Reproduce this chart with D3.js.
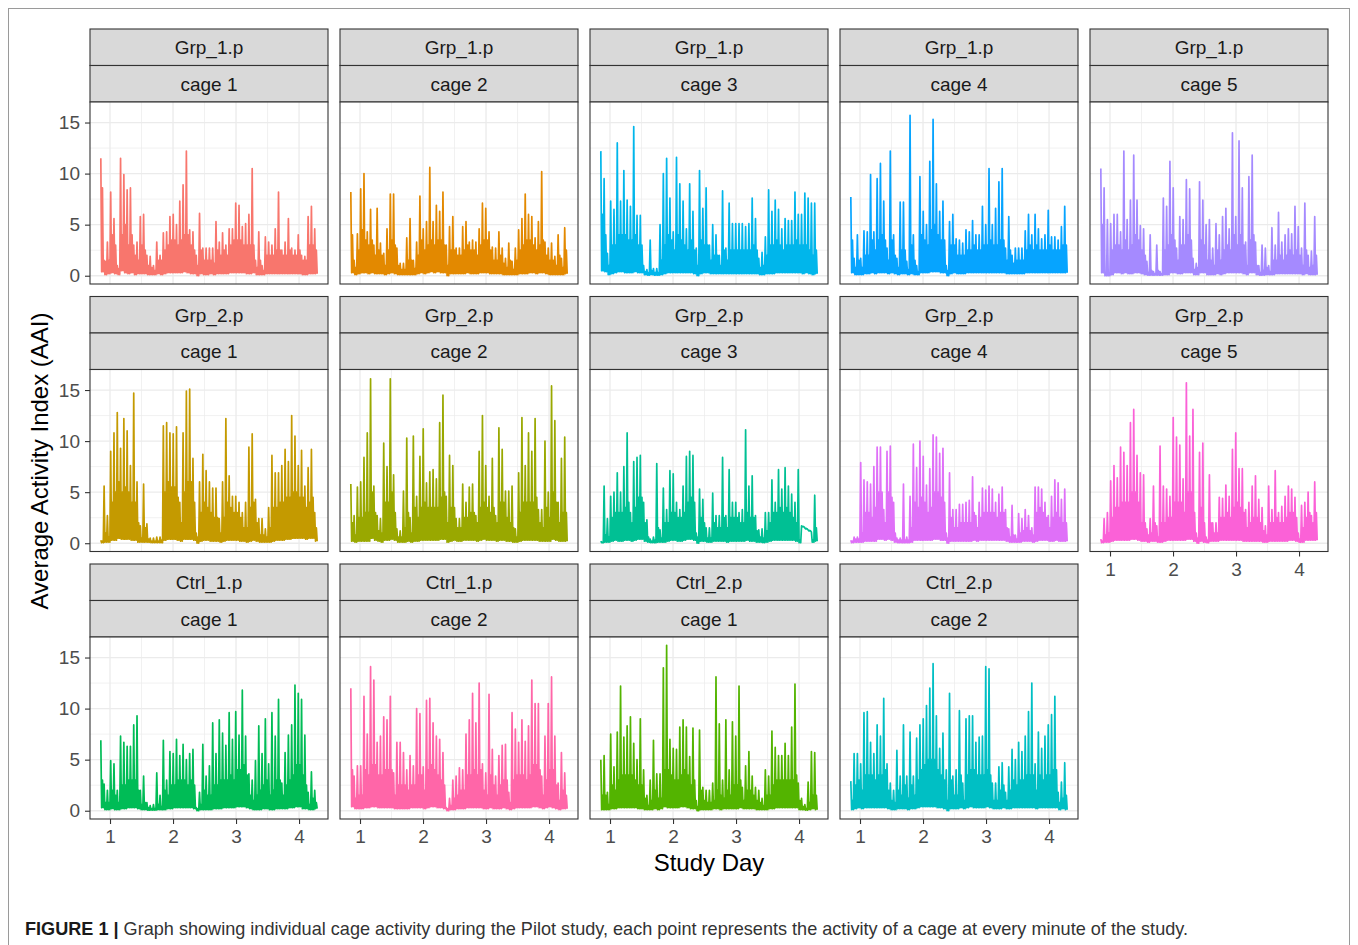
<!DOCTYPE html>
<html>
<head>
<meta charset="utf-8">
<title>Figure 1 - cage activity</title>
<script src="https://cdn.jsdelivr.net/npm/d3@7"></script>
<style>
  html, body { margin: 0; padding: 0; background: #fff; }
  svg { display: block; font-family: "Liberation Sans", Arial, sans-serif; }
</style>
</head>
<body>
<svg id="chart" width="1358" height="945"></svg>
<script>
'use strict';

// Facet labels (facet_wrap order, 5 columns)
var groups = ['Grp_1.p', 'Grp_1.p', 'Grp_1.p', 'Grp_1.p', 'Grp_1.p',
  'Grp_2.p', 'Grp_2.p', 'Grp_2.p', 'Grp_2.p', 'Grp_2.p',
  'Ctrl_1.p', 'Ctrl_1.p', 'Ctrl_2.p', 'Ctrl_2.p'];
var cages = ['cage 1', 'cage 2', 'cage 3', 'cage 4', 'cage 5',
  'cage 1', 'cage 2', 'cage 3', 'cage 4', 'cage 5',
  'cage 1', 'cage 2', 'cage 1', 'cage 2'];

// Study day span of the recordings (values are evenly spaced in it)
var dayStart = 0.854, dayEnd = 4.288;

// Axis breaks
var xBreaks = [1, 2, 3, 4], xMinor = [1.5, 2.5, 3.5];
var yBreaks = [0, 5, 10, 15], yMinor = [2.5, 7.5, 12.5];

// Average Activity Index, per time slot: peak, trough
var grp1Cage1 = [11.5,0.4, 1.5,0.1, 3.3,0.2, 8.2,0.3, 5.6,0.2, 1,0.1, 11.5,0.5, 9.9,0.3, 8.4,0.2, 8.6,0.3, 3,0.1, 3.3,0.2, 5.8,0.2, 6,0.2, 2,0.1, 1.9,0.1, 1,0.1, 3.3,0.2, 2,0.1, 4.2,0.2, 4.3,0.3, 5.8,0.3, 6,0.3, 5,0.3, 7.3,0.3, 8.9,0.4, 12.2,0.3, 4.5,0.2, 4.3,0.2, 2,0, 6.1,0.2, 2.7,0.1, 2.7,0.1, 2.7,0.2, 2.7,0.1, 5.3,0.2, 3.3,0.2, 4.2,0.2, 3,0.2, 4.6,0.3, 4.6,0.3, 7.1,0.3, 6.9,0.3, 4.8,0.3, 5.1,0.2, 6,0.2, 10.5,0.3, 1.5,0.1, 4.3,0.1, 1,0.1, 3.8,0.2, 3.3,0.2, 3,0.2, 4.6,0.2, 8.2,0.2, 2.5,0.2, 3.3,0.2, 5.6,0.2, 2.7,0.2, 2.5,0.2, 4,0.2, 2,0.1, 1.9,0.1, 5.8,0.2, 6.8,0.2, 4.6,0.2];
var grp1Cage2 = [8.2,0.3, 1.5,0.1, 4.1,0.2, 8.5,0.3, 10,0.3, 4.3,0.2, 6.5,0.3, 3,0.2, 6.6,0.2, 3.2,0.2, 2.2,0.1, 4.6,0.2, 8,0.3, 8,0.2, 2.7,0.1, 1.2,0.1, 1.2,0.1, 3.7,0.1, 5.6,0.1, 1.5,0.1, 3.3,0.2, 7.8,0.3, 4.6,0.2, 5.3,0.3, 10.6,0.4, 5.3,0.3, 6.9,0.4, 6.3,0.3, 8.2,0.3, 3,0, 4.8,0.2, 5.8,0.2, 2.7,0.2, 2.7,0.2, 4.8,0.2, 5.3,0.3, 3.3,0.2, 3.5,0.2, 3.3,0.2, 4.6,0.3, 7.1,0.3, 6.6,0.3, 4.3,0.2, 2.8,0.2, 2.7,0.2, 4.3,0.2, 2.7,0.1, 1.7,0.1, 3.2,0.1, 1.4,0.1, 2.7,0.1, 4.5,0.2, 5.6,0.2, 8,0.2, 6,0.3, 5.8,0.3, 3.7,0.2, 5.3,0.3, 10.2,0.3, 3.3,0.2, 2.7,0.1, 3.2,0.1, 1.9,0.1, 4,0.1, 1.7,0.1, 4.7,0.2];
var grp1Cage3 = [12.2,0.5, 9.5,0.4, 2.2,0.1, 7.3,0.2, 6.5,0.3, 13,0.4, 7.3,0.4, 10.3,0.3, 7.4,0.3, 6.8,0.3, 14.6,0.4, 5.9,0.3, 5.9,0.3, 1,0.1, 0.6,0.05, 3.5,0.1, 0.7,0.05, 0.7,0.05, 5,0.1, 10,0.2, 11.5,0.3, 7.6,0.3, 4.3,0.3, 11.6,0.3, 9,0.3, 7.3,0.3, 4.6,0.3, 9,0.3, 6.3,0.2, 2.7,0, 10.3,0.2, 6.6,0.3, 8.6,0.3, 3,0.2, 5,0.2, 4,0.2, 2,0.2, 8.3,0.2, 2.7,0.2, 7.1,0.2, 5.1,0.2, 5.1,0.2, 5.1,0.2, 5.1,0.2, 4.8,0.2, 5.1,0.2, 7.6,0.2, 5.6,0.2, 1.7,0.1, 2.3,0.1, 3.8,0.2, 8.4,0.2, 6.3,0.2, 7.4,0.3, 6.5,0.3, 4.6,0.3, 5.6,0.3, 5.4,0.3, 5.4,0.3, 8.2,0.3, 6,0.3, 6,0.2, 8.1,0.3, 7.6,0.2, 7.1,0.1, 7.1,0.2];
var grp1Cage4 = [7.7,0.3, 1.7,0.1, 4,0.1, 1.7,0.1, 4.4,0.2, 4.3,0.2, 9.9,0.3, 4.3,0.2, 9.5,0.3, 11,0.3, 7.3,0.3, 2.7,0.2, 12.2,0.3, 4,0.2, 1.7,0.1, 7.2,0.2, 7.2,0.2, 1.4,0.1, 15.7,0.2, 4,0.1, 1,0.1, 9.7,0.3, 6.3,0.3, 5,0.3, 11.2,0.4, 15.3,0.4, 9,0.4, 6.3,0.3, 7.3,0.3, 1,0, 5.3,0.2, 6,0.3, 3.6,0.2, 3.5,0.2, 3.2,0.2, 4.5,0.3, 4.3,0.3, 5.4,0.3, 4,0.3, 4,0.3, 6.8,0.3, 5,0.3, 10.5,0.3, 5,0.3, 6.6,0.3, 9.2,0.3, 10.5,0.3, 2.7,0.2, 5.8,0.2, 2,0.2, 2.7,0.2, 2.7,0.2, 2.7,0.2, 4.4,0.3, 6,0.3, 4,0.3, 6,0.3, 4.6,0.3, 3.6,0.3, 4,0.3, 6.4,0.3, 3.8,0.3, 3.8,0.3, 3.5,0.3, 4.8,0.3, 6.8,0.3];
var grp1Cage5 = [10.5,0.3, 8.6,0, 5.5,0, 5.1,0.1, 6,0.3, 6,0.3, 4.3,0.2, 12.2,0.3, 5.5,0.2, 7.4,0.2, 11.8,0.3, 7.4,0.3, 4.9,0.2, 4.6,0.1, 1.4,0.05, 4,0.05, 0.4,0.05, 3,0.05, 0.4,0.05, 7.6,0.1, 6.8,0.1, 11.2,0.3, 8.6,0.3, 2.7,0.2, 5.8,0.2, 5.5,0.3, 9.4,0.3, 8.5,0.3, 1.7,0.1, 1.2,0.1, 9.2,0.3, 7.4,0.3, 5,0.1, 5.5,0.1, 2.7,0.1, 5.1,0.2, 4,0.1, 5.8,0.2, 6.6,0.3, 4.6,0.3, 14,0.3, 5.8,0.3, 13.2,0.3, 8.6,0.2, 3.3,0.1, 9.7,0.3, 11.8,0.3, 3.3,0.1, 1,0.05, 3,0.05, 2.7,0.1, 1,0.1, 4.7,0.1, 3,0.2, 6.2,0.2, 3.3,0.2, 4,0.2, 4.6,0.2, 4.1,0.2, 6.8,0.2, 4.8,0.2, 2.7,0.1, 7.1,0.2, 2,0.1, 2.4,0.1, 5.8,0.1];
var grp2Cage1 = [0.3,0.05, 5.6,0.1, 2.7,0.1, 9,0.3, 10.8,0.3, 12.8,0.5, 9.3,0.4, 12.2,0.4, 11,0.4, 7.6,0.3, 14.7,0.3, 6,0.1, 1.7,0.1, 5.8,0.1, 1.9,0.1, 0.5,0.05, 0.5,0.05, 0.6,0.05, 0.6,0.05, 11.5,0.3, 11.8,0.4, 10.8,0.4, 10.7,0.4, 11.4,0.3, 4,0.2, 10.8,0.4, 14.9,0.4, 15.1,0.4, 8.3,0.3, 1,0, 6,0.2, 8.7,0.3, 7.1,0.3, 6,0.2, 5.4,0.2, 5.4,0.2, 2.4,0.1, 6,0.2, 12.2,0.3, 6.6,0.3, 4.6,0.3, 4.6,0.3, 4,0.2, 3,0.2, 4,0.1, 9.4,0.2, 10.7,0.3, 4.3,0.2, 2.4,0.1, 2.4,0.1, 1.4,0.1, 3.5,0.1, 8.6,0.2, 6.9,0.3, 6.9,0.3, 7.6,0.3, 9.2,0.4, 8,0.4, 12.5,0.5, 10.5,0.5, 7.6,0.5, 9.1,0.5, 5.6,0.4, 7.4,0.5, 9.2,0.5, 3,0.2];
var grp2Cage2 = [5.8,0.2, 2.7,0.1, 5.5,0.2, 6,0.2, 8.4,0.2, 10.8,0.2, 16.1,0.5, 5.6,0.3, 2.7,0.2, 2.4,0.1, 9.8,0.3, 7.5,0.3, 16.1,0.4, 6.7,0.3, 1.4,0.1, 1.2,0.1, 5.1,0.1, 10.3,0.2, 2.5,0.1, 10.5,0.2, 4.6,0.2, 8.5,0.3, 11.2,0.3, 5.9,0.3, 7,0.3, 7.2,0.3, 6.3,0.3, 11.8,0.4, 14.5,0.4, 4.6,0.1, 8.6,0.2, 7.6,0.3, 2.4,0.2, 2.4,0.2, 5.8,0.3, 4,0.3, 5.5,0.3, 5.8,0.3, 2.7,0.2, 9,0.3, 12.5,0.4, 7.6,0.3, 4.6,0.3, 8.3,0.3, 2.7,0.2, 11.3,0.3, 9.2,0.3, 5.1,0.2, 5.1,0.2, 5.6,0.1, 1.4,0.1, 6.9,0.2, 12.3,0.3, 7.6,0.3, 10.8,0.3, 9,0.3, 12.2,0.3, 3.3,0.2, 3.3,0.2, 10,0.2, 5,0.2, 15.4,0.4, 12,0.3, 4,0.2, 8.3,0.2, 10.4,0.2];
var grp2Cage3 = [0.2,0.05, 5.6,0.1, 2.4,0.1, 4.6,0.2, 5,0.3, 6.9,0.2, 5,0.2, 7.5,0.3, 10.8,0.3, 3,0.2, 8,0.3, 8.4,0.4, 8.6,0.4, 4,0.2, 2.3,0.1, 0.4,0.05, 0.6,0.05, 7.8,0.1, 1.3,0.1, 5.4,0.1, 3.3,0.2, 7.1,0.3, 6.8,0.3, 4,0.2, 3.3,0.2, 5.6,0.3, 8.5,0.4, 9,0.4, 8.6,0.3, 1,0, 5.3,0.2, 4.3,0.2, 1.5,0.1, 1.5,0.1, 4.9,0.2, 2.7,0.2, 2.7,0.2, 8.4,0.2, 2.7,0.1, 7.2,0.2, 4,0.2, 4,0.2, 3,0.2, 3.3,0.2, 11.1,0.3, 5.6,0.2, 6.6,0.2, 2.7,0.1, 1.3,0.1, 1.4,0.05, 3,0.1, 3,0.2, 6.2,0.3, 4,0.3, 7.2,0.3, 5.3,0.3, 7.4,0.3, 5.6,0.3, 4.8,0.3, 4,0.2, 7.2,0.05, 1.7,1.6, 1.5,1.4, 1.3,1.2, 1.1,0.1, 4.7,0.2];
var grp2Cage4 = [0.3,0.05, 0.6,0.1, 0.6,0.1, 7.9,0.1, 6.2,0.2, 6,0.2, 5.8,0.2, 7.5,0.2, 9.4,0.4, 9.4,0.4, 3.3,0.3, 9,0.4, 9.5,0.3, 4,0.1, 0.5,0.05, 0.5,0.05, 5.8,0.05, 0.6,0.05, 4.6,0.1, 9.7,0.3, 7.4,0.3, 10,0.3, 8.5,0.3, 5.7,0.3, 7.3,0.3, 10.6,0.4, 10.4,0.4, 8.8,0.3, 9.3,0.3, 1,0, 6.9,0.2, 3.3,0.2, 3.3,0.2, 3.8,0.2, 3.8,0.2, 4,0.2, 4.2,0.2, 6.5,0.3, 2.7,0.2, 4,0.3, 5.4,0.3, 5.2,0.3, 5.6,0.3, 5.3,0.3, 4,0.3, 4.8,0.3, 5.5,0.3, 3.3,0.2, 1.4,0.1, 3.7,0.1, 0.8,0.1, 2.9,0.1, 2.4,0.2, 3.3,0.2, 2.7,0.2, 1.5,0.1, 5.5,0.2, 5.5,0.3, 5.3,0.3, 4,0.3, 2.7,0.2, 4.6,0.2, 6.2,0.3, 5.9,0.2, 4.3,0.2, 5.3,0.2];
var grp2Cage5 = [0.4,0.05, 2.4,0.1, 3,0.1, 6.1,0.2, 7.6,0.3, 6.4,0.3, 9.4,0.3, 8.9,0.3, 7.6,0.3, 11.8,0.4, 13.1,0.4, 8.6,0.3, 6.9,0.2, 6.7,0.2, 1.4,0.1, 2.4,0.2, 5.6,0.2, 1.7,0.1, 9.5,0.1, 5.6,0.2, 5.3,0.3, 4.6,0.3, 12.3,0.3, 10.4,0.3, 9.6,0.3, 6.3,0.3, 15.7,0.4, 10.5,0.4, 13.1,0.2, 1,0, 8.9,0.2, 9.8,0.1, 0.6,0.05, 6.7,0.2, 2,0.2, 2,0.2, 4.5,0.3, 4.4,0.3, 5.7,0.3, 4.6,0.3, 9.2,0.3, 10.8,0.3, 7.3,0.3, 7.3,0.2, 3.3,0.2, 4,0.2, 5.6,0.2, 6.6,0.2, 4.3,0.2, 3.5,0.1, 1.7,0.1, 5.6,0.2, 3.3,0.2, 7.1,0.2, 3,0.2, 3.6,0.2, 4.6,0.2, 5.6,0.3, 5.3,0.3, 4.5,0.2, 1,0.1, 3.7,0.1, 4,0.3, 5,0.3, 2.7,0.3, 6,0.3];
var ctrl1Cage1 = [6.9,0.3, 2.6,0.1, 2,0.1, 4.9,0.2, 4.6,0.1, 2,0.1, 7.3,0.2, 6.7,0.2, 6.3,0.3, 6.3,0.3, 8.4,0.3, 9.3,0.2, 2,0.1, 3.4,0.1, 0.8,0.05, 0.5,0.05, 0.6,0.05, 3.7,0.1, 1.5,0.1, 6.9,0.1, 3,0.2, 5.8,0.2, 5.6,0.3, 7,0.3, 5.4,0.3, 6.5,0.3, 5,0.3, 5.6,0.3, 6,0.2, 0.3,0, 1.8,0.1, 6.5,0.1, 3.4,0.1, 4.4,0.1, 8.6,0.2, 5.6,0.2, 8.9,0.2, 7.6,0.3, 6.4,0.3, 9.6,0.3, 7,0.3, 9.7,0.4, 7.4,0.4, 11.8,0.4, 7.3,0.3, 3.6,0.2, 3,0.1, 4.9,0.1, 8.3,0.1, 5.6,0.2, 9,0.2, 4.6,0.1, 9.6,0.1, 7.3,0.2, 10.9,0.2, 2.7,0.2, 5.7,0.2, 7.4,0.3, 8.4,0.3, 12.3,0.4, 11.5,0.4, 10.9,0.2, 7.4,0.2, 1.8,0.1, 3.8,0.1, 2,0.2];
var ctrl1Cage2 = [12,0.4, 3.4,0.2, 4.4,0.2, 4.4,0.2, 11.2,0.3, 7.5,0.3, 14.1,0.4, 12.8,0.4, 6.7,0.3, 7.3,0.3, 9.2,0.3, 8.9,0.3, 11.2,0.3, 3.7,0.2, 6.7,0.2, 6.7,0.2, 5.7,0.2, 4,0.2, 5.4,0.3, 4.4,0.3, 10,0.3, 9.5,0.3, 4.3,0.2, 10.8,0.3, 11,0.4, 8.6,0.4, 7.3,0.3, 7,0.3, 5.7,0.2, 0.3,0, 1.2,0.1, 3,0.1, 3.4,0.2, 4.2,0.2, 4,0.2, 7.5,0.3, 8.9,0.3, 11.5,0.3, 8.6,0.3, 12.5,0.3, 4.6,0.2, 3.7,0.2, 11.4,0.3, 6,0.2, 3.4,0.2, 5.4,0.2, 6.4,0.3, 6.5,0.2, 1.8,0.1, 9.6,0.2, 8,0.3, 6.7,0.3, 8.9,0.3, 6.8,0.3, 8.3,0.3, 12.8,0.4, 10.5,0.4, 10.5,0.3, 3.4,0.2, 7.3,0.3, 10.5,0.4, 13.1,0.3, 7.3,0.2, 2.7,0.1, 5.7,0.2, 3.7,0.2];
var ctrl2Cage1 = [5,0.1, 5.4,0.1, 1.8,0.1, 7.5,0.2, 4.3,0.2, 7.7,0.3, 12.2,0.3, 7.2,0.3, 8.3,0.3, 9.2,0.3, 6.6,0.3, 5,0.2, 9,0.2, 4,0.1, 1.5,0.1, 3,0.1, 6.9,0.2, 3.6,0.1, 3.6,0.2, 14,0.4, 16.2,0.3, 7,0.3, 6.1,0.3, 6,0.3, 8.2,0.4, 8.9,0.4, 8.2,0.3, 5.3,0.2, 8.1,0.2, 1,0, 7.9,0.1, 2.3,0.1, 2,0.1, 2,0.1, 2.7,0.2, 13.1,0.2, 8.5,0.1, 3,0.2, 8.9,0.2, 4,0.2, 8.7,0.2, 7.3,0.2, 12.2,0.3, 2.3,0.2, 4.4,0.2, 5.8,0.2, 3.4,0.2, 2.3,0.1, 2,0.1, 1.2,0.1, 4,0.1, 3.4,0.2, 7.8,0.2, 6.2,0.3, 5.4,0.3, 5.4,0.3, 6.6,0.3, 5.4,0.3, 8.2,0.3, 12.4,0.3, 2.7,0.1, 1.2,0.1, 0.6,0.05, 2.8,0.1, 5.8,0.2, 5.7,0.1];
var ctrl2Cage2 = [2.9,0.1, 5.6,0.2, 5.6,0.3, 4.6,0.2, 9.6,0.3, 9.7,0.3, 6.7,0.3, 5.6,0.3, 8.4,0.3, 7.3,0.3, 11,0.3, 4.6,0.2, 2.7,0.1, 2,0.1, 5.9,0.2, 3.4,0.2, 8.4,0.2, 3.4,0.1, 7.7,0.2, 3.4,0.2, 7.1,0.3, 8.4,0.4, 9,0.4, 10.3,0.4, 12,0.4, 14.4,0.4, 9.3,0.3, 6.1,0.3, 7.6,0.2, 4,0, 11.5,0.2, 3.4,0.2, 4,0.2, 9.8,0.3, 2.7,0.2, 9,0.3, 9.3,0.4, 9.3,0.3, 6.7,0.3, 7.2,0.3, 7.3,0.3, 14.1,0.4, 13.9,0.3, 2.7,0.2, 2.7,0.2, 4.3,0.2, 4.7,0.3, 1.8,0.2, 4.3,0.2, 6,0.3, 5,0.3, 6.7,0.3, 5.8,0.3, 7.3,0.3, 9.7,0.3, 12.5,0.3, 4.6,0.2, 7.7,0.3, 6.1,0.3, 7.3,0.3, 8.4,0.3, 9.4,0.3, 11.2,0.3, 1.8,0.1, 2.8,0.2, 4.7,0.1];

// Height of the dense minute-to-minute activity in each time slot
var grp1Cage1Band = [8.6,1.4,1.5,4,3,0.7,4,5,3,4,2,1.5,3,2.5,1,0.8,0.5,1.5,1.5,2.5,3,3.5,3.5,3,3.5,4,4,3,2.5,1,2.5,1.5,1.5,1.5,1.2,2.5,2,2.5,2,3,3.5,3.5,3.5,3,3,3,3,0.8,1.5,0.5,2,2,2,2.5,2.5,2,2,2.5,2,2,2.5,1.5,1.5,3,3,2.5];
var grp1Cage2Band = [4,0.8,2.5,4.5,3.5,3,3.5,2,2.5,2,1,2.5,3.5,3,1,0.6,0.6,1.5,1.5,0.7,2,3.5,2.5,3,3.5,3,3.5,3.5,3,1,2.5,2.5,2,2,2.5,3,2.5,2.5,2,3,3.5,3.5,2.5,1.5,1.5,2,1.2,0.8,1.5,0.6,1.5,2.5,3,3.5,3.5,3,2.5,3,3.5,2,1.5,1.5,1,2,0.8,2.5];
var grp1Cage3Band = [6,4,1,3,3,4,4,4,3.5,3.5,4,3,3,0.4,0.3,0.5,0.3,0.3,1.5,3,4,3.5,2.5,4,3.5,3,2.5,3.5,2.5,1,3.5,3,3,1.5,2,2,1,2.5,1.5,2.5,2.5,2.5,2.5,2.5,2.5,2.5,3,2.5,0.8,1,2,3,3,3.5,3,2.5,3,3,3,3.5,3,3,3,2.5,2,2.5];
var grp1Cage4Band = [3.5,0.8,1.5,0.8,2,2,3.5,2.5,3.5,4,3.5,1.5,3.5,2,0.8,2.5,2.5,0.6,3,1.5,0.4,4,3.5,3,4.5,5,4,3.5,3.5,0.5,3,3,2,2,2,2.5,2.5,3,2.5,2.5,3,3,3.5,3,3,3.5,3.5,1.5,2.5,1.2,1.5,1.5,1.5,2.5,3,2.5,3,2.5,2.5,2.5,3,2.5,2.5,2.5,3,3];
var grp1Cage5Band = [5,0.2,0.3,2.5,3,3,2.5,3.5,2.5,3,4,3.5,2.5,2,0.3,0.5,0.2,0.5,0.2,2.5,3,4,3.5,1.5,3,3,4,3.5,0.6,0.8,3.5,3,1.5,1.5,1,2.5,1.5,2.5,3,2.5,4,3,4,3,1,3.5,4,1,0.3,0.5,0.8,0.4,1.5,1.5,2,1.5,2,2.5,2,2.5,2,1,2.5,0.8,1,2];
var grp2Cage1Band = [0.2,1,0.6,4,5,6,5,5.5,5,4,4,2,0.5,1.5,0.4,0.2,0.2,0.2,0.3,5,6,5.5,5.5,4.5,2,5,6,6,4,0.6,3,4,3.5,3,2.5,2.5,1,2.5,4,3.5,3,3,2.5,1.5,1.5,3.5,4,2,0.8,0.8,0.6,1.5,3.5,3.5,4,4,4.5,4.5,5,5,4.5,4.5,3.5,4,4.5,1.5];
var grp2Cage2Band = [2,0.8,2.5,2.5,3,3,5,3,1.2,1,4,4,5,3,0.6,0.6,1.5,3,1,3.5,2.5,3.5,4,3.5,3.5,3.5,3.5,4.5,5,2,3.5,3.5,1.5,1.5,2.5,2.5,3,3,2,3.5,4,3.5,3,3.5,2,4,4,2.5,2,1.5,0.6,3,4,4,4,4,4.5,2,1.5,3.5,2.5,5,4,2,3,3];
var grp2Cage3Band = [0.1,0.8,0.6,2.5,3,3,3,3.5,4,2,3.5,4.5,4.5,2,0.6,0.2,0.3,1.5,0.5,2,2,3,3,2.5,2.5,3,4,4.5,4,0.6,2.5,2,0.5,0.5,2,1.5,1.5,2.5,1.5,2.5,2.5,2.5,2,2,3,2.5,2.5,1.2,0.6,0.5,1.2,2,3,3,3.5,3,3.5,3,2.5,2,0.3,1.65,1.45,1.25,0.3,1.5];
var grp2Cage4Band = [0.2,0.4,0.4,1,3,3,2.5,3.5,5,5,2,5,4.5,1,0.3,0.3,0.3,0.3,1.5,4,3.5,4.5,4,3,3.5,5,5,4.5,4,0.5,2.5,1.5,1.5,2,2,2,2,3,1.5,2.5,3,3,3,3,2.5,3,3,1.5,0.6,0.8,0.4,1,1.2,1.5,1.2,0.8,3,3.5,3,2.5,1.5,2.5,3,2.5,2,2];
var grp2Cage5Band = [0.2,0.8,1,2.5,3.5,3.5,4,4,4,5,5,4,2,2,0.8,1,2,0.6,2,2,2.5,2.5,4,4,4,3,5,5,3,0.5,3.5,2,0.3,2,1,1,2.5,2.5,3,2.5,3.5,4,3.5,3,1.5,2,2.5,2.5,2,1.2,0.8,2,2,2.5,2,2,2.5,3,3,2.5,0.4,1.5,2.5,3,2,3];
var ctrl1Cage1Band = [3,0.8,0.8,2,1.5,0.8,2.5,2.5,3,3,3,2,0.6,0.8,0.3,0.2,0.2,0.6,0.4,2,1.5,2.5,2.5,3,3,3,2.5,3,2.5,0.2,0.6,2,1.5,1.5,2.5,2.5,3,3,3,3.5,3,4,4,4.5,3.5,1.5,1,1.5,2,2.5,3,1.5,2,3,3,1.5,2.5,3,3.5,4.5,4.5,3.5,2.5,0.6,1.2,0.8];
var ctrl1Cage2Band = [4,1.2,1.5,1.5,4,3.5,4.5,4.5,3.5,3.5,4,4,4,1.5,2.5,2.5,2.5,2,2.5,2.5,3.5,3.5,2,4,4.5,4,3.5,3,2.5,0.2,0.5,1.2,1.5,2,2,3.5,3.5,4,3.5,4,2,1.5,3.5,2.5,1.5,2.5,3,3,0.8,3,3.5,3.5,3.5,3,3.5,4.5,4.5,4,1.5,3,4,4,2.5,1,2,1.5];
var ctrl2Cage1Band = [1.5,1.5,0.6,2.5,2,3,3.5,3.5,3.5,3.5,3,2.5,2.5,1.2,0.5,1,2,1.2,1.2,4,4,3.5,3,3,3.5,4,3.5,2.5,3,0.4,2,1,0.8,0.8,1,2,1.5,1.2,2,1.5,2.5,2.5,3,1,2,2,1.5,1,0.8,0.5,1.5,1.5,2.5,3,3,3,3,3,3,3.5,1,0.4,0.2,0.8,1.5,1.5];
var ctrl2Cage2Band = [1,2.5,3,2,3.5,3.5,3.5,3,3.5,3.5,4,2,1,0.8,2,1.5,2.5,1.2,2.5,1.5,3,4,4.5,5,5,5,4,3.5,3,1,3,1.5,1.5,3.5,1,3.5,4,4,3.5,3.5,3.5,4,3.5,1,1,2,2.5,1,2,3,2.5,3,3,3.5,3.5,3.5,2,3.5,3,3.5,3.5,4,4,0.8,1.2,1.5];

var series = [grp1Cage1, grp1Cage2, grp1Cage3, grp1Cage4, grp1Cage5,
  grp2Cage1, grp2Cage2, grp2Cage3, grp2Cage4, grp2Cage5,
  ctrl1Cage1, ctrl1Cage2, ctrl2Cage1, ctrl2Cage2];
var bands = [grp1Cage1Band, grp1Cage2Band, grp1Cage3Band, grp1Cage4Band, grp1Cage5Band,
  grp2Cage1Band, grp2Cage2Band, grp2Cage3Band, grp2Cage4Band, grp2Cage5Band,
  ctrl1Cage1Band, ctrl1Cage2Band, ctrl2Cage1Band, ctrl2Cage2Band];

// ggplot hue colours as mapped to each cage
var colours = ['#F8766D', '#E38900', '#00B6EB', '#06A4FF', '#A58AFF',
  '#C49A00', '#99A800', '#00C094', '#DF70F8', '#FB61D7',
  '#00BC56', '#FF66A8', '#53B400', '#00BFC4'];

var nCol = 5,
  panelLeft = 90, colStep = 250, panelW = 238,
  rowTop = 29, rowStep = 267.5, stripH = 36.5, panelH = 182;

var svg = d3.select('#chart');

// figure frame
svg.append('rect')
  .attr('x', 8.5).attr('y', 8.5)
  .attr('width', 1341).attr('height', 960)
  .attr('fill', 'none').attr('stroke', '#9a9a9a').attr('stroke-width', 1);

/**
 * Build the reading sequence of one cage: for every time slot the peak,
 * the trough, the dense band level and the trough again.
 */
function readings(values, band) {
  var out = [];
  for (var i = 0; i < values.length / 2; i++) {
    out.push(values[2 * i], values[2 * i + 1]);
    if (band[i] != null) out.push(band[i], values[2 * i + 1]);
  }
  var step = (dayEnd - dayStart) / (out.length - 1);
  return out.map(function(v, j) { return { day: dayStart + j * step, v: v }; });
}

// shared scales (fixed across facets, 5% expansion like ggplot)
var dayPad = (dayEnd - dayStart) * 0.05;
var yMax = d3.max(series, function(s) { return d3.max(s); });
var x = d3.scaleLinear()
  .domain([dayStart - dayPad, dayEnd + dayPad])
  .range([0, panelW]);
var y = d3.scaleLinear()
  .domain([-yMax * 0.05, yMax * 1.05])
  .range([panelH, 0]);

var line = d3.line()
  .x(function(d) { return x(d.day); })
  .y(function(d) { return y(d.v); });

series.forEach(function(values, k) {
  var col = k % nCol, row = Math.floor(k / nCol);
  var left = panelLeft + col * colStep;
  var top = rowTop + row * rowStep;
  var g = svg.append('g').attr('transform', 'translate(' + left + ',' + top + ')');

  // two strips: group then cage
  [groups[k], cages[k]].forEach(function(label, i) {
    g.append('rect')
      .attr('x', 0).attr('y', i * stripH)
      .attr('width', panelW).attr('height', stripH)
      .attr('fill', '#D9D9D9').attr('stroke', '#333').attr('stroke-width', 1.1);
    g.append('text')
      .attr('x', panelW / 2).attr('y', i * stripH + stripH / 2)
      .attr('dy', '0.36em')
      .attr('text-anchor', 'middle')
      .attr('font-size', 19).attr('fill', '#1A1A1A')
      .text(label);
  });

  var p = g.append('g').attr('transform', 'translate(0,' + (2 * stripH) + ')');
  p.append('rect').attr('width', panelW).attr('height', panelH).attr('fill', '#fff');

  // grid
  p.selectAll('.ymin').data(yMinor).enter().append('line')
    .attr('x1', 0).attr('x2', panelW)
    .attr('y1', function(d) { return y(d); }).attr('y2', function(d) { return y(d); })
    .attr('stroke', '#EBEBEB').attr('stroke-width', 0.7);
  p.selectAll('.xmin').data(xMinor).enter().append('line')
    .attr('y1', 0).attr('y2', panelH)
    .attr('x1', function(d) { return x(d); }).attr('x2', function(d) { return x(d); })
    .attr('stroke', '#EBEBEB').attr('stroke-width', 0.7);
  p.selectAll('.ymaj').data(yBreaks).enter().append('line')
    .attr('x1', 0).attr('x2', panelW)
    .attr('y1', function(d) { return y(d); }).attr('y2', function(d) { return y(d); })
    .attr('stroke', '#EBEBEB').attr('stroke-width', 1.3);
  p.selectAll('.xmaj').data(xBreaks).enter().append('line')
    .attr('y1', 0).attr('y2', panelH)
    .attr('x1', function(d) { return x(d); }).attr('x2', function(d) { return x(d); })
    .attr('stroke', '#EBEBEB').attr('stroke-width', 1.3);

  p.append('path')
    .datum(readings(values, bands[k]))
    .attr('d', line)
    .attr('fill', 'none')
    .attr('stroke', colours[k])
    .attr('stroke-width', 1.7)
    .attr('stroke-linejoin', 'round');

  p.append('rect').attr('width', panelW).attr('height', panelH)
    .attr('fill', 'none').attr('stroke', '#333').attr('stroke-width', 1.1);

  // left axis on first column
  if (col === 0) {
    var ay = p.append('g').call(d3.axisLeft(y).tickValues(yBreaks).tickSize(5).tickPadding(5));
    styleAxis(ay);
  }
  // bottom axis where no facet sits below
  if (k + nCol >= series.length) {
    var ax = p.append('g').attr('transform', 'translate(0,' + panelH + ')')
      .call(d3.axisBottom(x).tickValues(xBreaks).tickFormat(d3.format('d')).tickSize(5).tickPadding(6));
    styleAxis(ax);
  }
});

function styleAxis(a) {
  a.select('.domain').remove();
  a.selectAll('.tick line').attr('stroke', '#333').attr('stroke-width', 1.1);
  a.selectAll('.tick text')
    .attr('fill', '#4D4D4D')
    .attr('font-size', 19)
    .attr('font-family', '"Liberation Sans", Arial, sans-serif');
}

// axis titles
svg.append('text')
  .attr('x', 709).attr('y', 871)
  .attr('text-anchor', 'middle')
  .attr('font-size', 24).attr('fill', '#000')
  .text('Study Day');
svg.append('text')
  .attr('transform', 'translate(48,461) rotate(-90)')
  .attr('text-anchor', 'middle')
  .attr('font-size', 24).attr('fill', '#000')
  .text('Average Activity Index (AAI)');

// caption
var cap = svg.append('text')
  .attr('x', 25).attr('y', 935)
  .attr('font-size', 18.1).attr('fill', '#333');
cap.append('tspan').attr('font-weight', 'bold').attr('fill', '#1a1a1a').text('FIGURE 1 |');
cap.append('tspan').text(' Graph showing individual cage activity during the Pilot study, each point represents the activity of a cage at every minute of the study.');
</script>
</body>
</html>
